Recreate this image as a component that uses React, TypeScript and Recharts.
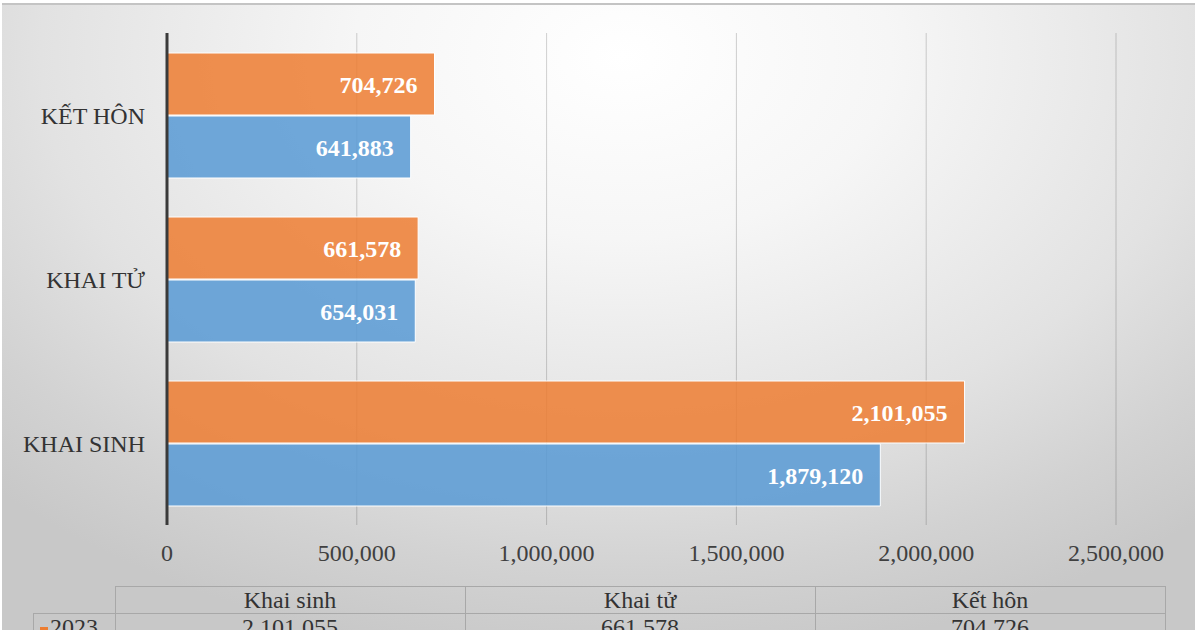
import { BarChart, Bar, XAxis, YAxis, CartesianGrid, LabelList } from 'recharts';

const categories = ['KHAI SINH', 'KHAI TỬ', 'KẾT HÔN'];
const tableHeaders = ['Khai sinh', 'Khai tử', 'Kết hôn'];
const values2023 = [2101055, 661578, 704726];
const values2022 = [1879120, 654031, 641883];
const xTicks = [0, 500000, 1000000, 1500000, 2000000, 2500000];

const FONT = '"Liberation Serif", "Times New Roman", serif';

const fmt = (v: number) => v.toLocaleString('en-US');

export default function App() {
  const data = categories.map((name, i) => ({
    name,
    y2023: values2023[i],
    y2022: values2022[i],
  }));

  return (
    <div style={{ position: 'absolute', left: 0, top: 0, width: 1200, height: 630, background: '#fff', overflow: 'hidden', fontFamily: FONT }}>
      <div
        style={{
          position: 'absolute',
          left: 2,
          top: 3,
          width: 1193,
          height: 640,
          borderTop: '2px solid #c4c4c4',
          background: 'radial-gradient(ellipse 75% 95% at 52% 8%, #ffffff 0%, #f6f6f6 30%, #e2e2e2 65%, #d2d2d2 85%, #c8c8c8 100%)',
        }}
      />
      <div style={{ position: 'absolute', left: 0, top: 0 }}>
        <BarChart
          width={1200}
          height={630}
          data={data}
          layout="vertical"
          margin={{ top: 33, right: 84, bottom: 65, left: 0 }}
          barCategoryGap={20}
          barGap={1}
        >
          <CartesianGrid horizontal={false} stroke="#000" strokeOpacity={0.18} />
          <XAxis
            type="number"
            domain={[0, 2500000]}
            ticks={xTicks}
            height={40}
            axisLine={false}
            tickLine={false}
            tickMargin={13}
            tickFormatter={fmt}
            tick={{ fontSize: 24, fill: '#404040', fontFamily: FONT }}
          />
          <YAxis
            type="category"
            dataKey="name"
            reversed
            width={167}
            axisLine={{ stroke: '#3a3a3a', strokeWidth: 3 }}
            tickLine={false}
            tickMargin={16}
            tick={{ fontSize: 24, fill: '#333', fontFamily: FONT }}
          />
          <Bar dataKey="y2023" name="2023" fill="#ED7D31" fillOpacity={0.85} stroke="#fff" strokeWidth={1} isAnimationActive={false}>
            <LabelList dataKey="y2023" position="insideRight" offset={17} formatter={fmt} fill="#fff" style={{ fontSize: 24, fontWeight: 'bold', fontFamily: FONT }} />
          </Bar>
          <Bar dataKey="y2022" name="2022" fill="#5B9BD5" fillOpacity={0.87} stroke="#fff" strokeWidth={1} isAnimationActive={false}>
            <LabelList dataKey="y2022" position="insideRight" offset={17} formatter={fmt} fill="#fff" style={{ fontSize: 24, fontWeight: 'bold', fontFamily: FONT }} />
          </Bar>
        </BarChart>
      </div>
      <table
        style={{
          position: 'absolute',
          left: 33,
          top: 586,
          borderCollapse: 'collapse',
          fontFamily: FONT,
          fontSize: 24,
          color: '#333',
        }}
      >
        <tbody>
          <tr style={{ height: 27 }}>
            <td style={{ width: 81, padding: 0 }} />
            {tableHeaders.map((h) => (
              <td key={h} style={{ width: 349, padding: 0, border: '1px solid #a8a8a8', textAlign: 'center', lineHeight: '26px' }}>
                {h}
              </td>
            ))}
          </tr>
          <tr style={{ height: 27 }}>
            <td style={{ padding: 0, border: '1px solid #a8a8a8', lineHeight: '26px', whiteSpace: 'nowrap' }}>
              <span style={{ display: 'inline-block', width: 8, height: 8, background: '#ED7D31', marginLeft: 6, marginRight: 2 }} />
              2023
            </td>
            {values2023.map((v, i) => (
              <td key={i} style={{ padding: 0, border: '1px solid #a8a8a8', textAlign: 'center', lineHeight: '26px' }}>
                {fmt(v)}
              </td>
            ))}
          </tr>
        </tbody>
      </table>
    </div>
  );
}
